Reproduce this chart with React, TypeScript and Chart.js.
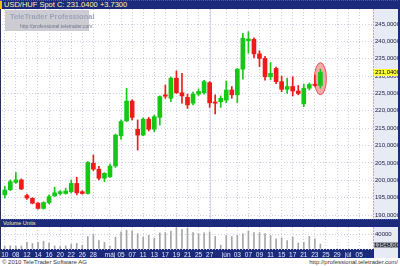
import React, { useEffect, useRef } from 'react';
import { Chart, registerables } from 'chart.js';

Chart.register(...registerables);

const FONT = "'Liberation Sans', Arial, sans-serif";
const NAVY = '#1b2a7b';
const GRID = '#d0d0e4';
const UP = '#14c814';
const DOWN = '#f01a1a';

const titleText = 'USD/HUF Spot C: 231.0400 +3.7300';
const volumeTitle = 'Volume Units';
const copyright = '© 2010 TeleTrader Software AG';
const siteUrl = 'http://professional.teletrader.com/';
const watermarkTitle = 'TeleTrader Professional';
const watermarkUrl = 'http://professional.teletrader.com';

const slotCount = 67;
const tickSlots = [0, 2, 4, 6, 8, 10, 12, 14, 16, 19, 21, 23, 25, 27, 29, 31, 33, 35, 37, 40, 42, 44, 46, 48, 50, 52, 54, 56, 58, 60, 62, 64];
const tickLabels = ['10', '08', '12', '14', '16', '20', '22', '26', '28', 'máj', '05', '07', '11', '13', '17', '19', '21', '25', '27', 'jún', '03', '07', '09', '11', '15', '17', '21', '23', '25', '29', 'júl', '05'];

const opens = [195.8, 197.3, 199.4, 200.1, 195.6, 194.8, 193.4, 191.9, 193.6, 195.5, 196.2, 196.2, 196.7, 199.1, 196.7, 196.2, 204.9, 203.2, 200.6, 201.0, 204.1, 212.8, 217.1, 222.8, 214.7, 213.0, 217.6, 214.7, 218.1, 224.6, 223.6, 229.4, 225.2, 223.9, 222.2, 224.8, 225.2, 228.1, 222.5, 222.6, 223.1, 226.0, 224.6, 232.0, 240.2, 240.6, 236.4, 235.1, 229.8, 232.2, 228.4, 226.2, 227.0, 225.7, 222.0, 226.5, 227.6, 227.3];
const highs = [198.3, 200.1, 202.2, 200.4, 196.0, 195.0, 193.6, 193.8, 195.8, 198.0, 197.0, 197.7, 200.1, 200.9, 197.0, 205.4, 207.3, 204.0, 202.2, 204.7, 213.3, 217.4, 226.5, 223.2, 217.4, 218.0, 218.1, 218.8, 224.3, 227.4, 229.7, 231.5, 230.8, 224.8, 225.4, 226.3, 228.8, 228.4, 224.6, 224.3, 228.6, 227.0, 232.2, 242.3, 242.8, 241.0, 237.3, 235.7, 233.9, 232.6, 230.0, 229.4, 229.8, 227.3, 227.7, 228.0, 230.3, 232.0];
const lows = [194.9, 197.0, 199.1, 197.3, 194.5, 193.2, 191.7, 191.7, 193.2, 195.3, 195.8, 196.0, 196.3, 195.8, 196.0, 196.0, 202.8, 200.1, 199.6, 200.8, 203.7, 211.8, 216.9, 217.4, 208.7, 212.8, 214.2, 214.0, 215.9, 223.6, 222.6, 225.0, 222.2, 220.7, 221.7, 224.4, 224.8, 221.0, 219.1, 221.0, 222.3, 223.6, 222.3, 229.1, 236.6, 235.2, 232.7, 228.8, 228.9, 227.8, 225.5, 225.0, 224.3, 224.6, 221.2, 226.0, 227.0, 226.5];
const closes = [197.2, 199.6, 200.1, 197.5, 194.9, 193.4, 191.9, 193.6, 195.3, 196.4, 196.7, 196.9, 199.1, 196.4, 196.2, 205.1, 203.2, 200.6, 202.0, 204.1, 213.0, 216.9, 222.8, 218.1, 213.0, 217.6, 214.7, 218.3, 224.1, 224.2, 229.4, 225.2, 224.3, 221.7, 224.8, 225.6, 228.4, 222.3, 222.2, 223.6, 226.0, 224.6, 232.0, 240.9, 240.7, 236.4, 235.1, 229.8, 230.8, 228.4, 226.2, 227.0, 225.7, 225.0, 226.5, 227.6, 227.3, 231.04];
const volumes = [8000, 9000, 8000, 8500, 18000, 15000, 18000, 21000, 16000, 8600, 6700, 8600, 13300, 15200, 10500, 34000, 39000, 23000, 18000, 7000, 32400, 46700, 51400, 49500, 41900, 32400, 37100, 29500, 43800, 44800, 48600, 58000, 53300, 56200, 44800, 41900, 43800, 46700, 34300, 10500, 37100, 34300, 37100, 41900, 48600, 44800, 44800, 41900, 37100, 27600, 30500, 22900, 32400, 16200, 18100, 34300, 27600, 13548];

const lastPrice = 231.04;
const lastVolumeText = '13548,000';
const markedSlot = 37;
const highlightSlot = 57;

const priceMin = 188.85;
const priceMax = 249.32;
const priceStep = 5;
const volumeMax = 60000;
const volumeStep = 20000;
const volumeLabelValue = 40000;

const slotLabels: string[] = Array.from({ length: slotCount }, (_, i) => {
  const k = tickSlots.indexOf(i);
  return k >= 0 ? tickLabels[k] : '';
});

const fmtPrice = (v: number) => v.toFixed(4).replace('.', ',');

const candleColors = closes.map((c, i) => (c >= opens[i] ? UP : DOWN));

const bodyData = slotLabels.map((_, i) => {
  if (i >= opens.length) return null;
  const lo = Math.min(opens[i], closes[i]);
  const hi = Math.max(opens[i], closes[i]);
  return [lo, Math.max(hi, lo + 0.35)];
});
const wickData = slotLabels.map((_, i) => (i < highs.length ? [lows[i], highs[i]] : null));
const volumeData = slotLabels.map((_, i) => (i < volumes.length ? volumes[i] : null));

const gridColor = (ctx: any) => (slotLabels[ctx.index] ? GRID : 'rgba(0,0,0,0)');

const pricePlugin = {
  id: 'priceDecor',
  beforeDraw(chart: any) {
    const { ctx, chartArea: a, width, height } = chart;
    ctx.save();
    ctx.fillStyle = '#e6ebf6';
    ctx.fillRect(a.right, 0, width - a.right, height);
    ctx.strokeStyle = '#d2b460';
    ctx.lineWidth = 1;
    ctx.setLineDash([2, 1]);
    ctx.beginPath();
    ctx.moveTo(a.right + 0.5, 0);
    ctx.lineTo(a.right + 0.5, height);
    ctx.stroke();
    ctx.restore();
  },
  beforeDatasetsDraw(chart: any) {
    const { ctx, chartArea: a } = chart;
    const xs = chart.scales.x;
    const ys = chart.scales.y;
    ctx.save();
    const mx = Math.round(xs.getPixelForValue(markedSlot)) + 0.5;
    ctx.strokeStyle = '#d6d6f0';
    ctx.lineWidth = 1;
    ctx.beginPath();
    ctx.moveTo(mx, a.top);
    ctx.lineTo(mx, a.bottom);
    ctx.stroke();
    const cx = xs.getPixelForValue(highlightSlot);
    const top = ys.getPixelForValue(highs[highlightSlot]);
    const bot = ys.getPixelForValue(lows[highlightSlot]);
    ctx.beginPath();
    ctx.ellipse(cx, (top + bot) / 2, 6, (bot - top) / 2 + 6.5, 0, 0, Math.PI * 2);
    ctx.fillStyle = 'rgba(240,115,115,0.6)';
    ctx.fill();
    ctx.strokeStyle = 'rgba(225,70,70,0.9)';
    ctx.stroke();
    ctx.restore();
  },
  afterDraw(chart: any) {
    const { ctx, chartArea: a, width } = chart;
    const py = chart.scales.y.getPixelForValue(lastPrice);
    ctx.save();
    ctx.fillStyle = '#ffff3a';
    ctx.fillRect(a.right + 1, Math.round(py) - 3, width - a.right - 1, 7);
    ctx.fillStyle = '#000000';
    ctx.font = `6px ${FONT}`;
    ctx.textBaseline = 'middle';
    ctx.fillText(fmtPrice(lastPrice), a.right + 2, Math.round(py) + 0.5);
    ctx.restore();
  },
};

const volumePlugin = {
  id: 'volumeDecor',
  beforeDraw(chart: any) {
    const { ctx, chartArea: a, width, height } = chart;
    ctx.save();
    ctx.fillStyle = '#e6ebf6';
    ctx.fillRect(a.right, 0, width - a.right, height);
    ctx.fillStyle = NAVY;
    ctx.fillRect(0, a.bottom, a.right + 1, height - a.bottom);
    ctx.strokeStyle = '#d2b460';
    ctx.lineWidth = 1;
    ctx.setLineDash([2, 1]);
    ctx.beginPath();
    ctx.moveTo(a.right + 0.5, 0);
    ctx.lineTo(a.right + 0.5, a.bottom);
    ctx.stroke();
    ctx.restore();
  },
  afterDraw(chart: any) {
    const { ctx, chartArea: a, width } = chart;
    ctx.save();
    ctx.fillStyle = '#9ea2b0';
    ctx.fillRect(a.right + 1, a.bottom - 7, width - a.right - 1, 6);
    ctx.fillStyle = '#000000';
    ctx.font = `6px ${FONT}`;
    ctx.textBaseline = 'middle';
    ctx.fillText(lastVolumeText, a.right + 1, a.bottom - 4);
    ctx.restore();
  },
};

function priceConfig(): any {
  return {
    type: 'bar',
    data: {
      labels: slotLabels,
      datasets: [
        { data: bodyData, backgroundColor: candleColors, barThickness: 4, grouped: false, borderWidth: 0, borderSkipped: false, order: 0 },
        { data: wickData, backgroundColor: candleColors, barThickness: 1, grouped: false, borderWidth: 0, borderSkipped: false, order: 1 },
      ],
    },
    options: {
      animation: false,
      responsive: false,
      events: [],
      layout: { padding: { left: 2, right: 0, top: 0, bottom: 0 } },
      plugins: { legend: { display: false }, tooltip: { enabled: false } },
      scales: {
        x: {
          offset: true,
          grid: { offset: false, drawTicks: false, color: gridColor },
          border: { display: false, dash: [1, 2] },
          ticks: { display: false, autoSkip: false },
          afterFit: (s: any) => { s.height = 0; s.paddingLeft = 0; s.paddingRight = 0; },
        },
        y: {
          position: 'right',
          min: priceMin,
          max: priceMax,
          grid: { drawTicks: false, color: GRID },
          border: { display: false, dash: [1, 2] },
          ticks: {
            stepSize: priceStep,
            includeBounds: false,
            padding: 2,
            color: '#1a1a40',
            font: { family: FONT, size: 6 },
            callback: (v: number) => fmtPrice(v),
          },
          afterFit: (s: any) => { s.width = 27; s.paddingTop = 0; s.paddingBottom = 0; },
        },
      },
    },
    plugins: [pricePlugin],
  };
}

function volumeConfig(): any {
  return {
    type: 'bar',
    data: {
      labels: slotLabels,
      datasets: [
        { data: volumeData, backgroundColor: '#a6a6a6', barThickness: 1, borderWidth: 0 },
      ],
    },
    options: {
      animation: false,
      responsive: false,
      events: [],
      layout: { padding: { left: 2, right: 0, top: 0, bottom: 0 } },
      plugins: { legend: { display: false }, tooltip: { enabled: false } },
      scales: {
        x: {
          offset: true,
          grid: { offset: false, drawTicks: false, color: gridColor },
          border: { display: false, dash: [1, 2] },
          ticks: {
            autoSkip: false,
            maxRotation: 0,
            minRotation: 0,
            padding: 2,
            color: '#e4e8ff',
            font: { family: FONT, size: 6.5 },
            callback: (_v: any, i: number) => slotLabels[i],
          },
          afterFit: (s: any) => { s.height = 9; s.paddingLeft = 0; s.paddingRight = 0; },
        },
        y: {
          position: 'right',
          min: 0,
          max: volumeMax,
          grid: { drawTicks: false, color: GRID },
          border: { display: false, dash: [1, 2] },
          ticks: {
            stepSize: volumeStep,
            padding: 2,
            color: '#1a1a40',
            font: { family: FONT, size: 6 },
            callback: (v: number) => (v === volumeLabelValue ? String(v) : ''),
          },
          afterFit: (s: any) => { s.width = 27; s.paddingTop = 0; s.paddingBottom = 0; },
        },
      },
    },
    plugins: [volumePlugin],
  };
}

export default function App() {
  const priceRef = useRef<HTMLCanvasElement>(null);
  const volRef = useRef<HTMLCanvasElement>(null);

  useEffect(() => {
    const pc = new Chart(priceRef.current as HTMLCanvasElement, priceConfig());
    const vc = new Chart(volRef.current as HTMLCanvasElement, volumeConfig());
    return () => {
      pc.destroy();
      vc.destroy();
    };
  }, []);

  const bar: React.CSSProperties = {
    position: 'absolute',
    left: 0,
    width: 400,
    height: 9,
    background: NAVY,
    borderTop: '1px dotted #4a5aa8',
    boxSizing: 'border-box',
    overflow: 'hidden',
    whiteSpace: 'nowrap',
  };

  return (
    <div style={{ position: 'fixed', left: 0, top: 0, width: 400, height: 266, background: '#ffffff', overflow: 'hidden', fontFamily: FONT }}>
      <div style={{ ...bar, top: 0 }}>
        <div style={{ position: 'absolute', left: 0, top: 0, width: 2, height: 8, background: '#f2c200' }} />
        <span style={{ position: 'absolute', left: 4, top: 0, fontSize: 7.5, lineHeight: '8px', color: '#fbf6a6' }}>{titleText}</span>
      </div>
      <canvas ref={priceRef} width={400} height={210} style={{ position: 'absolute', left: 0, top: 9 }} />
      <div style={{ position: 'absolute', left: 5, top: 10, width: 84, height: 21, background: 'rgba(200,200,206,0.92)' }}>
        <div style={{ position: 'absolute', left: 5, top: 2, fontSize: 7.5, fontWeight: 'bold', color: '#9aa4ba', lineHeight: '10px', whiteSpace: 'nowrap' }}>{watermarkTitle}</div>
        <div style={{ position: 'absolute', left: 15, top: 13, fontSize: 5, color: '#6e7688', lineHeight: '6px', whiteSpace: 'nowrap' }}>{watermarkUrl}</div>
      </div>
      <div style={{ ...bar, top: 219, height: 8 }}>
        <span style={{ position: 'absolute', left: 3, top: 0, fontSize: 5.5, lineHeight: '7px', color: '#f4f0a8' }}>{volumeTitle}</span>
      </div>
      <canvas ref={volRef} width={400} height={31} style={{ position: 'absolute', left: 0, top: 227 }} />
      <div style={{ position: 'absolute', left: 0, top: 9, width: 1, height: 249, background: '#2a2f5a' }} />
      <div style={{ position: 'absolute', left: 398, top: 0, width: 2, height: 258, background: NAVY }} />
      <div style={{ position: 'absolute', left: 2, top: 258, fontSize: 6, lineHeight: '8px', color: '#333333', whiteSpace: 'nowrap' }}>{copyright}</div>
      <div style={{ position: 'absolute', right: 2, top: 258, fontSize: 6, lineHeight: '8px', color: '#333333', whiteSpace: 'nowrap' }}>{siteUrl}</div>
    </div>
  );
}
